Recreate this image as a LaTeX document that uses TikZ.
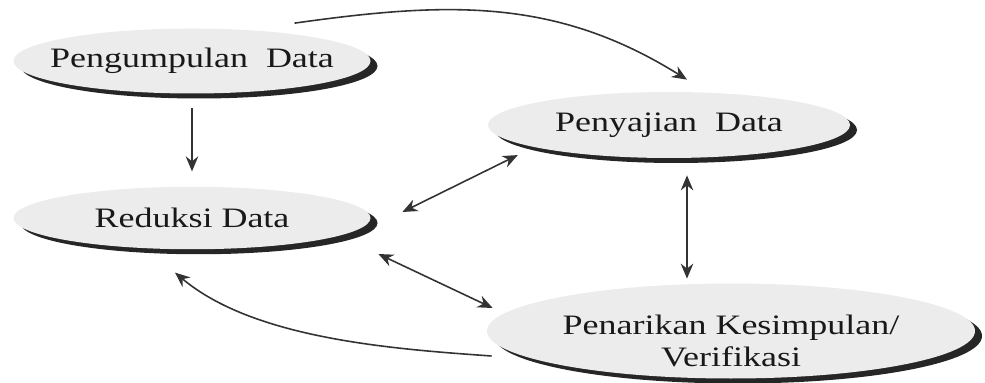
\documentclass[tikz,border=0pt]{standalone}
\usepackage{fontspec}
\setmainfont{Liberation Serif}[FakeStretch=1.28]
\usetikzlibrary{shapes.geometric, arrows.meta, shadows}
\tikzset{
    bubble/.style={ellipse, fill=gray!15, inner sep=0pt, drop shadow={shadow xshift=0.14cm, shadow yshift=-0.1cm, fill=black!85, opacity=1}},
    bubbletext/.style={font=\fontsize{16}{18.5}\selectfont, text=black!90, align=center},
    arrow/.style={-{Stealth[length=3mm, width=2.5mm]}, line width=0.9pt, black!80},
    dblarrow/.style={{Stealth[length=3mm, width=2.5mm]}-{Stealth[length=3mm, width=2.5mm]}, line width=0.9pt, black!80},
}

\begin{document}
\begin{tikzpicture}
\useasboundingbox (0,0) rectangle (19.7,-7.66);

% Stages
\node[bubble, minimum width=7.14cm, minimum height=1.3cm, label={[bubbletext]center:Pengumpulan~~Data}] (pengumpulan) at (3.84,-1.22) {};
\node[bubble, minimum width=7.24cm, minimum height=1.32cm, label={[bubbletext]center:Penyajian~~Data}] (penyajian) at (13.38,-2.5) {};
\node[bubble, minimum width=7.14cm, minimum height=1.25cm, label={[bubbletext]center:Reduksi Data}] (reduksi) at (3.84,-4.36) {};
\node[bubble, minimum width=9.76cm, minimum height=1.9cm, label={[bubbletext, yshift=-0.2cm]center:{Penarikan Kesimpulan/\\Verifikasi}}] (penarikan) at (14.62,-6.62) {};

% Flow
\draw[arrow, shorten <=0.28cm, shorten >=0.3cm] (pengumpulan.south) -- (reduksi.north);
\draw[arrow] ([xshift=2.05cm, yshift=0.1cm]pengumpulan.north) to[out=8, in=148] ([xshift=0.36cm, yshift=0.24cm]penyajian.north);
\draw[dblarrow] ([shift={(0.63,0.12)}]reduksi.east) -- ([shift={(-0.46,-0.13)}]penyajian.south west);
\draw[dblarrow] ([xshift=0.36cm, yshift=-0.34cm]penyajian.south) -- ([xshift=-0.88cm, yshift=0.09cm]penarikan.north);
\draw[dblarrow] ([shift={(0.15,-0.72)}]reduksi.east) -- ([shift={(0.12,0.46)}]penarikan.west);
\draw[arrow] ([shift={(0.1,-0.5)}]penarikan.west) to[out=176, in=-40, looseness=0.8] ([shift={(-0.34,-0.46)}]reduksi.south);

\end{tikzpicture}
\end{document}
